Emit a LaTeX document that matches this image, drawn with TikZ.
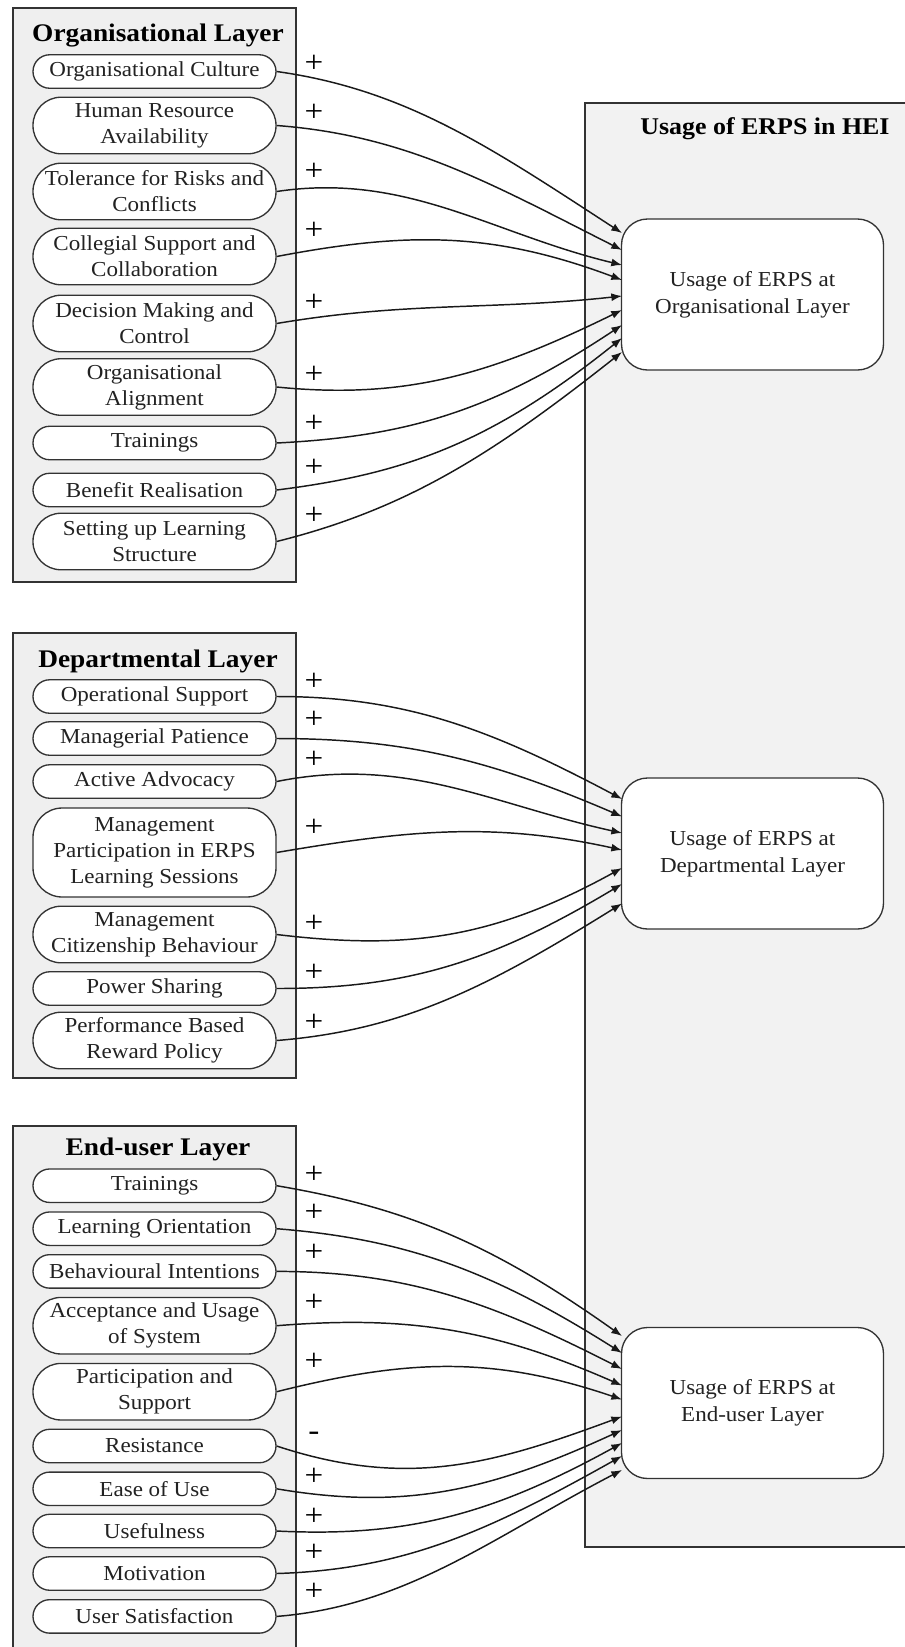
\documentclass[tikz,border=0pt]{standalone}
\usepackage{fontspec}
\setmainfont{Liberation Serif}[FakeStretch=1.08]
\usetikzlibrary{arrows.meta}
\definecolor{layerfill}{HTML}{EFEFEF}
\definecolor{heifill}{HTML}{F2F2F2}
\definecolor{edgecol}{HTML}{333333}
\definecolor{textcol}{HTML}{222222}
\newcommand\pillfont{\fontsize{16pt}{19.5pt}\selectfont}
\newcommand\usagefont{\fontsize{16pt}{20.25pt}\selectfont}
\newcommand\titlefont{\fontsize{19pt}{22pt}\selectfont\bfseries}
\newcommand\heifont{\fontsize{18pt}{21pt}\selectfont\bfseries}
\newcommand\signfont{\fontsize{23pt}{23pt}\selectfont}
\tikzset{
  layerbox/.style={draw=edgecol, line width=1.3pt, fill=layerfill},
  heibox/.style={draw=edgecol, line width=1.1pt, fill=heifill},
  pill/.style={draw=edgecol, line width=1pt, fill=white, rounded corners=12.5pt,
    minimum width=182.25pt, minimum height=25.1pt, inner sep=0pt, align=center,
    font=\pillfont, text=textcol},
  pilltwo/.style={pill, rounded corners=21pt, minimum height=42.4pt},
  pillthree/.style={pill, rounded corners=22pt, minimum height=66.75pt},
  usagebox/.style={draw=edgecol, line width=1pt, fill=white, rounded corners=19.5pt,
    minimum width=196.5pt, minimum height=113.25pt, inner sep=0pt, align=center,
    font=\usagefont, text=textcol},
  layertitle/.style={anchor=base, inner sep=0pt, font=\titlefont, text=black},
  sign/.style={inner sep=0pt, font=\signfont, text=black},
  conn/.style={draw=black!90, line width=1.1pt, -{Latex[length=8pt,width=6pt]}},
}
\newcommand\conn[4]{\draw[conn] (#1.east) .. controls +(130,#3) and +(-130,#4) .. (#2);}
\begin{document}
\begin{tikzpicture}[x=0.75pt,y=-0.75pt]
\path[use as bounding box] (0,0) rectangle (905,1647);
\clip (0,0) rectangle (905,1647);
\fill[white] (0,0) rectangle (905,1647);

% containers
\path[heibox] (585,103) rectangle (925,1547);
\path[layerbox] (13,8) rectangle (296,582);
\path[layerbox] (13,633) rectangle (296,1078);
\path[layerbox] (13,1126) rectangle (296,1670);

% titles
\node[layertitle] (torg) at (158,41.7) {Organisational Layer};
\node[layertitle] (tdep) at (158,667.5) {Departmental Layer};
\node[layertitle] (tend) at (158,1155.5) {End-user Layer};
\node[anchor=base, inner sep=0pt, font=\heifont] (thei) at (765,134) {Usage of ERPS in HEI};

% usage boxes
\node[usagebox] (uo) at (752.5,294.5) {Usage of ERPS at\\Organisational Layer};
\node[usagebox] (ud) at (752.5,853.5) {Usage of ERPS at\\Departmental Layer};
\node[usagebox] (ue) at (752.5,1403) {Usage of ERPS at\\End-user Layer};

% organisational pills
\node[pill]    (o1) at (154.5,71.5)  {Organisational Culture};
\node[pilltwo] (o2) at (154.5,125.5) {Human Resource\\Availability};
\node[pilltwo] (o3) at (154.5,191.5) {Tolerance for Risks and\\Conflicts};
\node[pilltwo] (o4) at (154.5,256.5) {Collegial Support and\\Collaboration};
\node[pilltwo] (o5) at (154.5,323.5) {Decision Making and\\Control};
\node[pilltwo] (o6) at (154.5,387)   {Organisational\\Alignment};
\node[pill]    (o7) at (154.5,443)   {Trainings};
\node[pill]    (o8) at (154.5,490)   {Benefit Realisation};
\node[pilltwo] (o9) at (154.5,541.5) {Setting up Learning\\Structure};

% departmental pills
\node[pill]      (d1) at (154.5,696.5)  {Operational Support};
\node[pill]      (d2) at (154.5,738.5)  {Managerial Patience};
\node[pill]      (d3) at (154.5,781.5)  {Active Advocacy};
\node[pillthree] (d4) at (154.5,852.5)  {Management\\Participation in ERPS\\Learning Sessions};
\node[pilltwo]   (d5) at (154.5,934.5)  {Management\\Citizenship Behaviour};
\node[pill]      (d6) at (154.5,988.5)  {Power Sharing};
\node[pilltwo]   (d7) at (154.5,1040.5) {Performance Based\\Reward Policy};

% end-user pills
\node[pill]    (e1)  at (154.5,1185.7) {Trainings};
\node[pill]    (e2)  at (154.5,1228.7) {Learning Orientation};
\node[pill]    (e3)  at (154.5,1271.4) {Behavioural Intentions};
\node[pilltwo] (e4)  at (154.5,1325.7) {Acceptance and Usage\\of System};
\node[pilltwo] (e5)  at (154.5,1391.7) {Participation and\\Support};
\node[pill]    (e6)  at (154.5,1446)   {Resistance};
\node[pill]    (e7)  at (154.5,1488.8) {Ease of Use};
\node[pill]    (e8)  at (154.5,1531)   {Usefulness};
\node[pill]    (e9)  at (154.5,1573.5) {Motivation};
\node[pill]    (e10) at (154.5,1616.4) {User Satisfaction};

% connector end points on the usage boxes
\coordinate (uo1) at (622,233);
\coordinate (uo2) at (622,250);
\coordinate (uo3) at (622,265);
\coordinate (uo4) at (622,280);
\coordinate (uo5) at (622,296);
\coordinate (uo6) at (622,310);
\coordinate (uo7) at (622,325);
\coordinate (uo8) at (622,338);
\coordinate (uo9) at (622,352);
\coordinate (ud1) at (622,799);
\coordinate (ud2) at (622,816.5);
\coordinate (ud3) at (622,833);
\coordinate (ud4) at (622,850);
\coordinate (ud5) at (622,868);
\coordinate (ud6) at (622,884);
\coordinate (ud7) at (622,903.5);
\coordinate (ue1) at (622,1336);
\coordinate (ue2) at (622,1353);
\coordinate (ue3) at (622,1369);
\coordinate (ue4) at (622,1385.5);
\coordinate (ue5) at (622,1399.5);
\coordinate (ue6) at (622,1416.5);
\coordinate (ue7) at (622,1430);
\coordinate (ue8) at (622,1443);
\coordinate (ue9) at (622,1456);
\coordinate (ue10) at (622,1470);

% connectors
\conn{o1}{uo1}{18.2}{-84.5}
\conn{o2}{uo2}{9.75}{-65.7}
\conn{o3}{uo3}{-19.5}{-31.2}
\conn{o4}{uo4}{-24.7}{-48.75}
\conn{o5}{uo5}{-22.1}{14.3}
\conn{o6}{uo6}{13}{63.7}
\conn{o7}{uo7}{-6.5}{86.5}
\conn{o8}{uo8}{-16.25}{104}
\conn{o9}{uo9}{-32.5}{102.7}

\conn{d1}{ud1}{0}{-68.9}
\conn{d2}{ud2}{0}{-55.9}
\conn{d3}{ud3}{-26}{-28.6}
\conn{d4}{ud4}{-22.1}{-28.6}
\conn{d5}{ud5}{15.6}{71.5}
\conn{d6}{ud6}{0}{78}
\conn{d7}{ud7}{-10.4}{80.6}

\conn{e1}{ue1}{22.1}{-92.3}
\conn{e2}{ue2}{10.4}{-81.9}
\conn{e3}{ue3}{0}{-66.3}
\conn{e4}{ue4}{-10.4}{-57.2}
\conn{e5}{ue5}{-32.5}{-44.2}
\conn{e6}{ue6}{42.9}{48.1}
\conn{e7}{ue7}{22.1}{59.8}
\conn{e8}{ue8}{6.5}{71.5}
\conn{e9}{ue9}{-3.9}{72.8}
\conn{e10}{ue10}{-10.4}{67.6}

% signs
\node[sign] (so1) at (314,63.5)  {+};
\node[sign] (so2) at (314,112.5) {+};
\node[sign] (so3) at (314,171.6) {+};
\node[sign] (so4) at (314,230.7) {+};
\node[sign] (so5) at (314,302.7) {+};
\node[sign] (so6) at (314,375)   {+};
\node[sign] (so7) at (314,424)   {+};
\node[sign] (so8) at (314,468)   {+};
\node[sign] (so9) at (314,516)   {+};

\node[sign] (sd1) at (314,681.7)  {+};
\node[sign] (sd2) at (314,720)    {+};
\node[sign] (sd3) at (314,760)    {+};
\node[sign] (sd4) at (314,828.3)  {+};
\node[sign] (sd5) at (314,924)    {+};
\node[sign] (sd6) at (314,973.3)  {+};
\node[sign] (sd7) at (314,1022.7) {+};

\node[sign] (se1)  at (314,1175)   {+};
\node[sign] (se2)  at (314,1213.3) {+};
\node[sign] (se3)  at (314,1253.3) {+};
\node[sign] (se4)  at (314,1303.3) {+};
\node[sign] (se5)  at (314,1361.7) {+};
\node[sign] (se6)  at (314,1436.7) {-};
\node[sign] (se7)  at (314,1476.7) {+};
\node[sign] (se8)  at (314,1516.7) {+};
\node[sign] (se9)  at (314,1553.3) {+};
\node[sign] (se10) at (314,1591.7) {+};
\end{tikzpicture}
\end{document}
